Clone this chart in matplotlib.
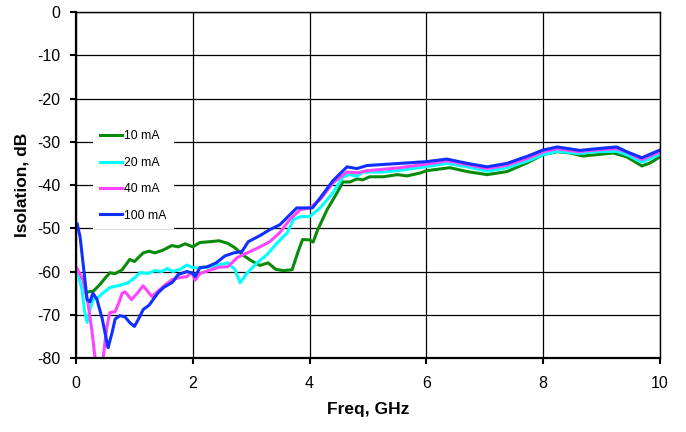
import matplotlib
matplotlib.use('Agg')
import matplotlib.pyplot as plt

plt.rcParams['font.family'] = ['Liberation Sans', 'DejaVu Sans']
plt.rcParams['axes.unicode_minus'] = False

# 10 mA
f_10 = [0.22, 0.3, 0.41, 0.5, 0.58, 0.67, 0.79, 0.92, 1.0, 1.15, 1.25, 1.35, 1.5,
        1.64, 1.75, 1.87, 2.0, 2.12, 2.3, 2.45, 2.6, 2.72, 2.85, 3.0, 3.15, 3.29,
        3.42, 3.55, 3.7, 3.8, 3.88, 4.0, 4.06, 4.14, 4.3, 4.47, 4.57, 4.69, 4.81,
        4.91, 5.03, 5.26, 5.5, 5.67, 5.9, 6.0, 6.4, 6.7, 7.04, 7.38, 7.72, 8.0,
        8.24, 8.46, 8.68, 9.2, 9.43, 9.69, 9.83, 10]
iso_10 = [-64.7, -64.5, -63, -61.5, -60.3, -60.5, -59.6, -57.2, -57.7, -55.7, -55.3,
          -55.7, -55, -54, -54.3, -53.6, -54.3, -53.3, -53.1, -52.9, -53.5, -54.5,
          -56.1, -57.5, -58.6, -58, -59.5, -59.8, -59.6, -55.5, -52.6, -52.7, -53.2,
          -50.3, -45.7, -41.8, -39.3, -39.3, -38.6, -38.8, -38.1, -38.1, -37.6, -37.9,
          -37.2, -36.7, -36, -36.9, -37.6, -36.9, -34.9, -33, -32.3, -32.6, -33.3,
          -32.6, -33.5, -35.6, -34.9, -33.5]

# 20 mA
f_20 = [0.02, 0.1, 0.15, 0.19, 0.24, 0.29, 0.38, 0.46, 0.58, 0.75, 0.89, 1.0, 1.1,
        1.22, 1.35, 1.47, 1.56, 1.66, 1.78, 1.9, 2.0, 2.12, 2.25, 2.4, 2.6, 2.72,
        2.81, 2.92, 3.1, 3.27, 3.45, 3.62, 3.72, 3.85, 4.0, 4.18, 4.4, 4.57, 4.69,
        4.81, 4.91, 5.26, 5.55, 6.03, 6.35, 6.7, 7.04, 7.38, 7.72, 8.0, 8.24, 8.6,
        8.9, 9.26, 9.43, 9.69, 10]
iso_20 = [-60, -64, -69.5, -71.8, -68.8, -66.5, -66, -65, -63.7, -63.2, -62.6, -61.5,
          -60.2, -60.5, -59.8, -60, -59.3, -60, -59.5, -58.5, -59.1, -59.2, -59, -58.6,
          -58, -59.5, -62.6, -60.5, -58, -56.1, -53.3, -51, -48, -47.3, -47.3, -45.3,
          -41.8, -38.1, -37.6, -38, -37, -37, -36.6, -35.7, -35, -35.8, -36.8, -36,
          -34.5, -33, -32.2, -32.7, -32.3, -32.2, -33, -34.7, -32.9]

# 40 mA
f_40 = [0.02, 0.12, 0.2, 0.27, 0.33, 0.40, 0.46, 0.53, 0.58, 0.67, 0.74, 0.79, 0.84,
        0.95, 1.05, 1.15, 1.3, 1.49, 1.64, 1.78, 1.9, 1.98, 2.04, 2.12, 2.29, 2.45,
        2.6, 2.76, 2.88, 2.98, 3.15, 3.32, 3.49, 3.66, 3.84, 4.0, 4.18, 4.4, 4.64,
        4.81, 4.98, 5.55, 6.03, 6.35, 6.7, 7.04, 7.38, 7.72, 8.0, 8.24, 8.6, 8.9,
        9.26, 9.43, 9.69, 10]
iso_40 = [-59.4, -62, -67, -73.4, -80.4, -85, -80.4, -72.7, -69.5, -69.3, -67, -65,
          -64.7, -66.5, -65, -63.3, -65.8, -63.5, -61.9, -61.4, -61.2, -60.2, -62,
          -60.5, -59.7, -59, -58.9, -56.8, -56, -55.4, -54.3, -53.1, -51, -48, -45.7,
          -45.3, -43.4, -39.5, -37, -37.2, -36.7, -36, -35.1, -34.4, -35.3, -36.2,
          -35.4, -33.9, -32.3, -31.6, -32.3, -31.9, -31.6, -32.4, -34.1, -32.3]

# 100 mA
f_100 = [0.02, 0.07, 0.12, 0.19, 0.24, 0.29, 0.36, 0.45, 0.53, 0.55, 0.62, 0.67, 0.75,
         0.84, 0.92, 1.0, 1.07, 1.15, 1.25, 1.4, 1.5, 1.65, 1.75, 1.9, 2.0, 2.04,
         2.12, 2.25, 2.4, 2.55, 2.7, 2.84, 2.95, 3.15, 3.32, 3.49, 3.66, 3.78, 3.95,
         4.05, 4.18, 4.4, 4.64, 4.81, 4.98, 5.55, 6.0, 6.35, 6.7, 7.04, 7.38, 7.72,
         8.0, 8.24, 8.63, 8.92, 9.26, 9.43, 9.69, 10]
iso_100 = [-49, -52, -58, -66.5, -67, -65, -66.5, -71, -76.4, -77.6, -74, -71, -70.2,
           -70.5, -71.8, -72.7, -71, -68.8, -67.8, -65, -63.7, -62.5, -60.7, -60,
           -60.4, -61.2, -59.1, -58.9, -58, -56.4, -55.7, -55.4, -53.1, -51.7, -50.3,
           -49.2, -46.9, -45.3, -45.3, -45.3, -43, -39, -35.8, -36.2, -35.5, -35,
           -34.6, -34, -35, -35.8, -35, -33.4, -31.9, -31.2, -32, -31.6, -31.2, -32.3,
           -33.7, -31.9]

series = [('10 mA', f_10, iso_10, '#0a8a0a'),
          ('20 mA', f_20, iso_20, '#00ffff'),
          ('40 mA', f_40, iso_40, '#ff44ff'),
          ('100 mA', f_100, iso_100, '#1030ff')]

fig = plt.figure(figsize=(6.86, 4.32), dpi=100)
ax = fig.add_axes([0.1108, 0.1713, 0.8513, 0.8009])

for label, f, iso, c in series:
    ax.plot(f, iso, color=c, lw=2.2, label=label, solid_joinstyle='round')

ax.set_xlim(0, 10)
ax.set_ylim(-80, 0)
ax.set_xticks(range(0, 11, 2))
ax.set_yticks(range(-80, 1, 10))
ax.grid(True, color='black', lw=0.9)
ax.set_axisbelow(True)

for s in ['left', 'bottom']:
    ax.spines[s].set_linewidth(1.6)
for s in ['top', 'right']:
    ax.spines[s].set_linewidth(1.0)

ax.tick_params(direction='out', length=4, width=1.5, labelsize=11.5, pad=7)
ax.tick_params(axis='x', pad=9)

ax.set_xlabel('Freq, GHz', fontsize=12.5, fontweight='bold', labelpad=8)
ax.set_ylabel('Isolation, dB', fontsize=12.5, fontweight='bold', labelpad=6)

leg = ax.legend(loc='upper left', bbox_to_anchor=(0.029, 0.679), borderaxespad=0,
                fontsize=8.8, frameon=True, fancybox=False, framealpha=1,
                edgecolor='none', facecolor='white', handlelength=1.75,
                handletextpad=0.2, labelspacing=1.18, borderpad=0.6)

fig.savefig('out.png', dpi=100)
